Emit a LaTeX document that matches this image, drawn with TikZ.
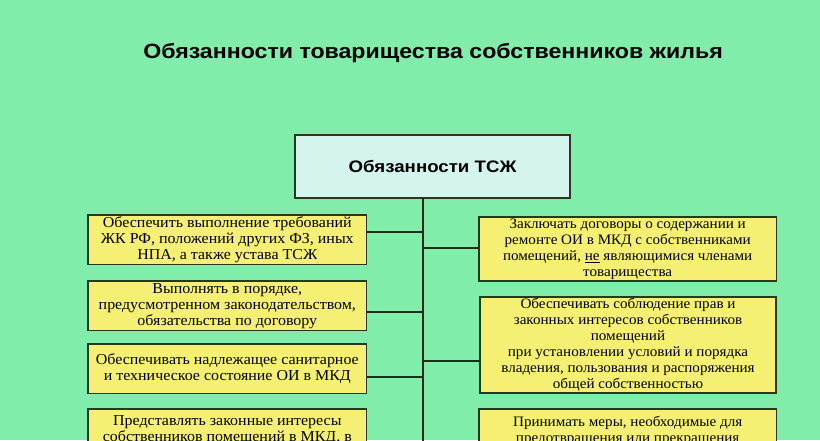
\documentclass[tikz,border=0pt]{standalone}
\usepackage{fontspec}
\setmainfont{Liberation Serif}[FakeStretch=1.05]
\newfontfamily\headfont{Liberation Sans}[FakeStretch=1.12]
\usetikzlibrary{positioning}
\definecolor{mint}{RGB}{128,238,170}
\definecolor{dutyfill}{RGB}{245,240,115}
\definecolor{topfill}{RGB}{214,244,238}
\definecolor{rim}{RGB}{40,55,30}
\tikzset{
    every node/.style={inner sep=0pt, outer sep=0pt}
}
\tikzset{
    duty/.style={draw=rim, line width=1.1pt, fill=dutyfill, align=center,
    	font=\fontsize{10.8}{12}\selectfont, anchor=north west}
}
\tikzset{
    wide/.style={font=\fontsize{11.4}{12}\selectfont}
}
\tikzset{
    link/.style={draw=rim!80!black, line width=1.1pt}
}
\begin{document}
\begin{tikzpicture}[x=0.75pt, y=-0.75pt]
  \fill[mint] (0,0) rectangle (820,440);
  \useasboundingbox (0,0) rectangle (820,440);
  \clip (0,0) rectangle (820,440);

  \node (title) at (433,53) {\headfont\fontsize{15.5}{17}\selectfont\bfseries Обязанности товарищества собственников жилья};
  \node (top) [draw=rim, line width=1.1pt, fill=topfill, minimum width=206pt, minimum height=47pt,
  	font=\headfont\fontsize{12.5}{14}\selectfont\bfseries] at (432.5,166.5) {Обязанности ТСЖ};

  % left column
  \node (l1) [duty, wide, minimum width=209pt, minimum height=37pt] at (88,215) {Обеспечить выполнение требований\\ЖК РФ, положений других ФЗ, иных\\НПА, а также устава ТСЖ};
  \node (l2) [duty, wide, minimum width=209pt, minimum height=37pt] at (88,281) {Выполнять в порядке,\\предусмотренном законодательством,\\обязательства по договору};
  \node (l3) [duty, wide, minimum width=209pt, minimum height=37pt] at (88,344) {Обеспечивать надлежащее санитарное\\и техническое состояние ОИ в МКД};
  \node (l4) [duty, wide, minimum width=209pt, minimum height=60pt] at (88,409) {\rule{0pt}{7pt}Представлять законные интересы\\собственников помещений в МКД, в\\[18pt]};

  % right column
  \node (r1) [duty, minimum width=223pt, minimum height=48pt] at (479,217) {Заключать договоры о содержании и\\ремонте ОИ в МКД с собственниками\\помещений, \underline{не} являющимися членами\\товарищества};
  \node (r2) [duty, minimum width=222pt, minimum height=72pt] at (480,297) {Обеспечивать соблюдение прав и\\законных интересов собственников\\помещений\\при установлении условий и порядка\\владения, пользования и распоряжения\\общей собственностью};
  \node (r3) [duty, minimum width=223pt, minimum height=60pt] at (479,409) {\rule{0pt}{8pt}Принимать меры, необходимые для\\предотвращения или прекращения\\[18pt]};

  % trunk and branches
  \coordinate (foot) at (423,445);
  \coordinate (tl1) at (423,232); \coordinate (tl2) at (423,312); \coordinate (tl3) at (423,377);
  \coordinate (tr1) at (423,248); \coordinate (tr2) at (423,361);
  \draw[link] (top.south -| foot) -- (foot);
  \draw[link] (tl1) -- (tl1 -| l1.east); \draw[link] (tl2) -- (tl2 -| l2.east); \draw[link] (tl3) -- (tl3 -| l3.east);
  \draw[link] (tr1) -- (tr1 -| r1.west); \draw[link] (tr2) -- (tr2 -| r2.west);
\end{tikzpicture}
\end{document}
